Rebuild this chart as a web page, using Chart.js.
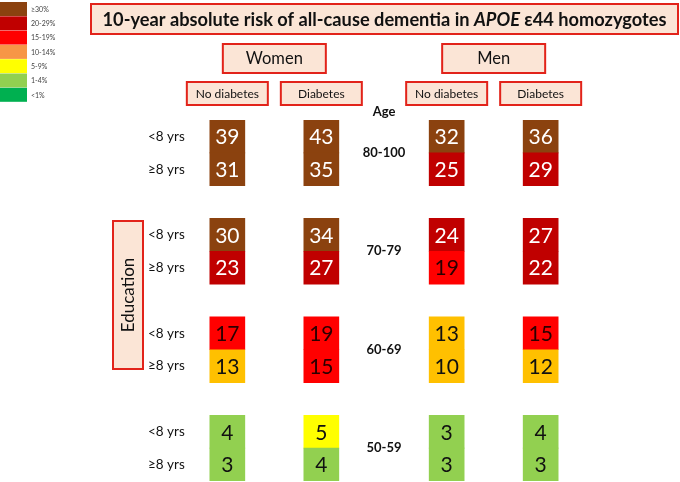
<!DOCTYPE html>
<html>
<head>
<meta charset="utf-8">
<script src="https://cdn.jsdelivr.net/npm/chart.js@4.4.1/dist/chart.umd.min.js"></script>
<style>
  html, body { margin: 0; padding: 0; background: #fff; }
  #wrap { width: 680px; height: 482px; position: relative; }
</style>
</head>
<body>
<div id="wrap"><canvas id="riskChart"></canvas></div>
<script>
// data
const sexes = ['Women', 'Men'];
const diabetesGroups = ['No diabetes', 'Diabetes'];
const ageGroups = ['80-100', '70-79', '60-69', '50-59'];
const educationGroups = ['<8 yrs', '≥8 yrs'];
// each list: age group top to bottom, <8 yrs then ≥8 yrs
const womenNoDiabetes = [39, 31, 30, 23, 17, 13, 4, 3];
const womenDiabetes = [43, 35, 34, 27, 19, 15, 5, 4];
const menNoDiabetes = [32, 25, 24, 19, 13, 10, 3, 3];
const menDiabetes = [36, 29, 27, 22, 15, 12, 4, 3];
const riskBands = ['≥30%', '20-29%', '15-19%', '10-14%', '5-9%', '1-4%', '<1%'];

// layout / style
const columnValues = [womenNoDiabetes, womenDiabetes, menNoDiabetes, menDiabetes];
const columnSlot = [0, 3, 7, 10];
const legendColors = ['#8B420F', '#C00000', '#FF0000', '#F79646', '#FFFF00', '#92D050', '#00B050'];
const peach = '#FBE5D6';
const boxRed = '#E2231A';
const FONT = 'Lato, "Open Sans", sans-serif';

function cellColor(v) {
    if (v >= 30) return '#8B420F';
    if (v >= 20) return '#C00000';
    if (v >= 15) return '#FF0000';
    if (v >= 10) return '#FFC000';
    if (v >= 5) return '#FFFF00';
    if (v >= 1) return '#92D050';
    return '#00B050';
}
function textColor(v) {
    if (v >= 20) return '#ffffff';
    if (v >= 15) return '#2a0000';
    return '#111111';
}

const cells = [];
const colors = [];
columnValues.forEach((vals, c) => {
    vals.forEach((v, r) => {
        const g = Math.floor(r / 2), e = r % 2;
        cells.push({ x: columnSlot[c], y: [3 * g + e, 3 * g + e + 1], v: v });
        colors.push(cellColor(v));
    });
});

function box(ctx, x, y, w, h) {
    ctx.fillStyle = peach;
    ctx.fillRect(x, y, w, h);
    ctx.strokeStyle = boxRed;
    ctx.lineWidth = 2;
    ctx.strokeRect(x, y, w, h);
}

const decorations = {
    id: 'decorations',
    beforeDraw(chart) {
        const ctx = chart.ctx;
        const xs = chart.scales.x;
        ctx.save();
        ctx.fillStyle = '#fff';
        ctx.fillRect(0, 0, chart.width, chart.height);

        // legend
        riskBands.forEach((lab, i) => {
            const y = 2 + i * 14.3;
            ctx.fillStyle = legendColors[i];
            ctx.fillRect(0, y, 27, 14);
            ctx.fillStyle = '#444';
            ctx.font = '7px ' + FONT;
            ctx.textAlign = 'left';
            ctx.textBaseline = 'middle';
            ctx.fillText(lab, 31, y + 7.5);
        });

        // title
        box(ctx, 91, 4, 587, 30);
        const parts = [
            ['bold', '10-year absolute risk of all-cause dementia in '],
            ['italic bold', 'APOE'],
            ['bold', ' \u03b544 homozygotes']
        ];
        let size = 17;
        const measure = s => parts.reduce((w, p) => {
            ctx.font = p[0] + ' ' + s + 'px ' + FONT;
            return w + ctx.measureText(p[1]).width;
        }, 0);
        size = size * 564 / measure(size);
        let tx = 384.5 - measure(size) / 2;
        ctx.fillStyle = '#111';
        ctx.textAlign = 'left';
        ctx.textBaseline = 'middle';
        parts.forEach(p => {
            ctx.font = p[0] + ' ' + size + 'px ' + FONT;
            ctx.fillText(p[1], tx, 20);
            tx += ctx.measureText(p[1]).width;
        });

        // sex and diabetes headers
        ctx.textAlign = 'center';
        sexes.forEach((s, i) => {
            const cx = (xs.getPixelForValue(columnSlot[2 * i]) + xs.getPixelForValue(columnSlot[2 * i + 1])) / 2;
            box(ctx, cx - 51.5, 44, 103, 29);
            ctx.fillStyle = '#111';
            ctx.font = '16.5px ' + FONT;
            ctx.fillText(s, cx, 59);
        });
        columnSlot.forEach((slot, c) => {
            const cx = xs.getPixelForValue(slot);
            box(ctx, cx - 40.5, 82, 81, 23);
            ctx.fillStyle = '#111';
            ctx.font = '12px ' + FONT;
            ctx.fillText(diabetesGroups[c % 2], cx, 94);
        });

        // education box
        box(ctx, 113, 221, 30, 148);
        ctx.translate(128, 295);
        ctx.rotate(-Math.PI / 2);
        ctx.fillStyle = '#111';
        ctx.font = '17px ' + FONT;
        ctx.fillText('Education', 0, 1);
        ctx.restore();
    },
    afterDatasetsDraw(chart) {
        const ctx = chart.ctx;
        const xs = chart.scales.x, ys = chart.scales.y;
        ctx.save();
        ctx.textAlign = 'center';
        ctx.textBaseline = 'middle';
        ctx.font = '21px ' + FONT;
        chart.getDatasetMeta(0).data.forEach((bar, i) => {
            const v = cells[i].v;
            ctx.fillStyle = textColor(v);
            ctx.fillText(String(v), bar.x, (bar.y + bar.base) / 2 + 1);
        });

        // age labels
        ctx.fillStyle = '#111';
        ctx.font = 'bold 13px ' + FONT;
        const ax = xs.getPixelForValue(5);
        ctx.fillText('Age', ax, 112);
        ageGroups.forEach((a, g) => {
            ctx.fillText(a, ax, ys.getPixelForValue(3 * g + 1));
        });

        // education labels
        ctx.textAlign = 'left';
        ctx.font = '13.5px ' + FONT;
        ageGroups.forEach((a, g) => {
            educationGroups.forEach((e, k) => {
                ctx.fillText(e, 148, ys.getPixelForValue(3 * g + k + 0.5));
            });
        });
        ctx.restore();
    }
};

new Chart(document.getElementById('riskChart'), {
    type: 'bar',
    data: {
        datasets: [{
            data: cells,
            backgroundColor: colors,
            borderWidth: 0,
            barThickness: 35
        }]
    },
    options: {
        responsive: true,
        maintainAspectRatio: false,
        animation: false,
        layout: { padding: { left: 196, right: 108, top: 120, bottom: 1 } },
        scales: {
            x: { type: 'linear', min: -1, max: 11, display: false, offset: false },
            y: { type: 'linear', min: 0, max: 11, reverse: true, display: false }
        },
        plugins: {
            legend: { display: false },
            tooltip: { enabled: false }
        }
    },
    plugins: [decorations]
});
</script>
</body>
</html>
